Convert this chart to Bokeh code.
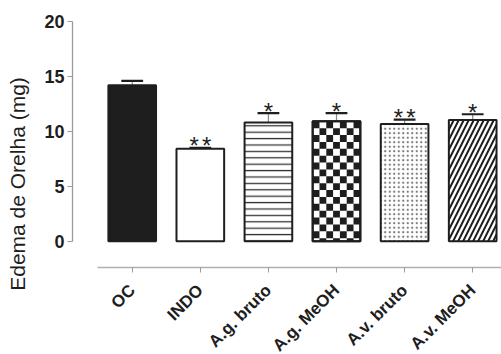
import math
from bokeh.plotting import figure
from bokeh.models import FixedTicker, LinearAxis, Range1d, ColumnDataSource
from bokeh.core.properties import value
from bokeh.embed import file_html
from bokeh.resources import INLINE

# ---- data ----
categories = ["OC", "INDO", "A.g. bruto", "A.g. MeOH", "A.v. bruto", "A.v. MeOH"]
means = [14.18, 8.40, 10.78, 10.90, 10.65, 11.02]
errors = [0.40, 0.08, 0.86, 0.74, 0.40, 0.52]
n_stars = [0, 2, 1, 1, 2, 1]
y_ticks = [0, 5, 10, 15, 20]

FONT = "Liberation Sans"
INK = "#1e1e1e"
BAR_W = 0.70
X_AXIS_AT = -2.39   # where the detached category axis sits

xs = list(range(len(categories)))
tops = [m + e for m, e in zip(means, errors)]

p = figure(width=501, height=354, output_backend="svg", toolbar_location=None,
           x_range=Range1d(-0.877, 5.423), y_range=Range1d(-10.3, 20.7),
           x_axis_type=None, y_axis_type=None,
           min_border_left=72, min_border_right=0, min_border_top=13, min_border_bottom=0)
p.outline_line_color = None
p.xgrid.visible = False
p.ygrid.visible = False
p.background_fill_color = "white"
p.border_fill_color = "white"

# ---- axes ----
yax = LinearAxis(ticker=FixedTicker(ticks=y_ticks), bounds=(0, 20))
yax.axis_label = "Edema de Orelha (mg)"
yax.axis_label_text_font = FONT
yax.axis_label_text_font_size = "21px"
yax.axis_label_text_font_style = "normal"
yax.axis_label_text_color = INK
yax.axis_label_standoff = 12
yax.major_label_text_font = FONT
yax.major_label_text_font_size = "18px"
yax.major_label_text_font_style = "bold"
yax.major_label_text_color = INK
yax.major_label_standoff = 3
yax.axis_line_color = "#9a9a9a"
yax.axis_line_width = 1.3
yax.major_tick_line_color = "#9a9a9a"
yax.major_tick_out = 5
yax.major_tick_in = 0
yax.minor_tick_line_color = None
p.add_layout(yax, "left")

xax = LinearAxis(ticker=FixedTicker(ticks=xs), bounds=(-0.51, 5.6),
                 fixed_location=X_AXIS_AT)
xax.major_label_text_color = None   # category names drawn below as rotated text
xax.axis_line_color = "#b0b0b0"
xax.axis_line_width = 1.5
xax.major_tick_line_color = "#9a9a9a"
xax.major_tick_out = 5
xax.major_tick_in = 0
xax.minor_tick_line_color = None
p.add_layout(xax, "below")

# category labels, 45 degrees, right end at each tick
p.text(x=xs, y=[X_AXIS_AT] * len(xs), text=categories, angle=math.pi / 4,
       x_offset=0, y_offset=20, text_align="right", text_baseline="middle",
       text_font=value(FONT), text_font_size="17px", text_font_style="bold",
       text_color=INK)

# ---- error bars (upper only) ----
p.segment(x0=xs, y0=means, x1=xs, y1=tops, line_color="#888888", line_width=1.2)
cap = 0.16
p.segment(x0=[x - cap for x in xs], y0=tops, x1=[x + cap for x in xs], y1=tops,
          line_color=INK, line_width=2.2)

# ---- bars ----
fills = [INK, "white", "white", "white", "white", "white"]
hatches = [" ", " ", "horizontal_line", " ", "dot", "right_diagonal_line"]
hscale = [10, 10, 6.4, 10, 4.5, 10]
hweight = [1, 1, 1.3, 1, 1.0, 2.0]
hcolor = [INK, INK, "#333333", INK, "#777777", INK]
src = ColumnDataSource(dict(x=xs, top=means, fill=fills, hatch=hatches,
                            hs=hscale, hw=hweight, hc=hcolor))
p.vbar(x="x", top="top", bottom=0, width=BAR_W, source=src,
       fill_color="fill", hatch_pattern="hatch", hatch_scale="hs",
       hatch_weight="hw", hatch_color="hc",
       line_color=INK, line_width=2)

# checkerboard for A.g. MeOH, cells built from the bar's value
ci = categories.index("A.g. MeOH")
ncols = 7
cw = BAR_W / ncols
ch = 0.625
left0 = xs[ci] - BAR_W / 2
L, R, B, T = [], [], [], []
nrows = int(math.ceil(means[ci] / ch))
for r in range(nrows):
    top_r = means[ci] - r * ch
    bot_r = max(0.0, top_r - ch)
    for c in range(ncols):
        if (r + c) % 2 == 0:
            L.append(left0 + c * cw)
            R.append(left0 + (c + 1) * cw)
            B.append(bot_r)
            T.append(top_r)
p.quad(left=L, right=R, bottom=B, top=T, fill_color=INK, line_color=None)
p.vbar(x=[xs[ci]], top=[means[ci]], bottom=0, width=BAR_W, fill_color=None,
       line_color=INK, line_width=2)

# ---- significance stars ----
sx, sy, sdx = [], [], []
for x, t, n in zip(xs, tops, n_stars):
    for k in range(n):
        sx.append(x)
        sy.append(t)
        sdx.append((k - (n - 1) / 2) * 12.5)
p.text(x=sx, y=sy, text=["*"] * len(sx), x_offset=sdx, y_offset=-2,
       text_align="center", text_baseline="alphabetic",
       text_font=value(FONT), text_font_size="24px", text_color=INK)

open("out.html", "w").write(file_html(p, INLINE))
